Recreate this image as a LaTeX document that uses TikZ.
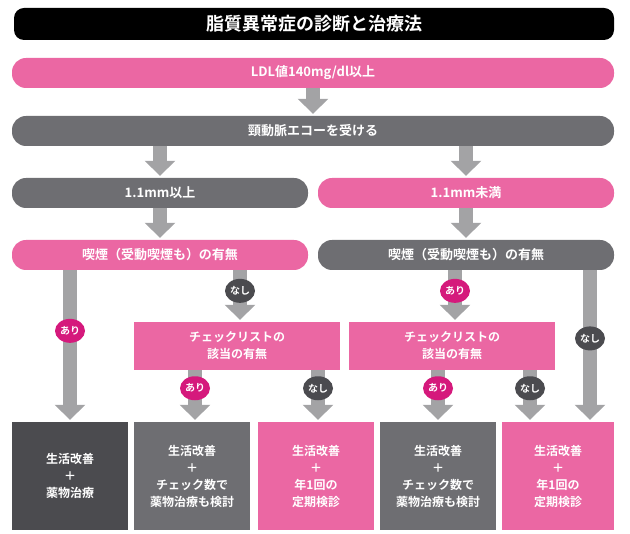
\documentclass[tikz,border=0pt]{standalone}
\usepackage{fontspec}
\usetikzlibrary{arrows.meta}
\newfontfamily\cjk{Noto Sans CJK JP}[BoldFont=* Bold]
\definecolor{pinkc}{HTML}{EB67A3}
\definecolor{grayc}{HTML}{6E6E72}
\definecolor{darkc}{HTML}{4B4B4F}
\definecolor{arrc}{HTML}{A3A3A5}
\definecolor{magc}{HTML}{D5197C}
\tikzset{
  bar/.style={fill=#1, text=white, rounded corners=14pt, minimum height=30pt,
    font=\cjk\bfseries\fontsize{13}{15}\selectfont, inner sep=0pt},
  box/.style={fill=#1, text=white, align=center, inner sep=0pt,
    font=\cjk\bfseries\fontsize{12}{17}\selectfont},
  arr/.style={draw=arrc, line width=14pt, -{Triangle[width=30pt,length=15pt]}, shorten >=2pt},
  pill/.style={fill=#1, text=white, ellipse, minimum width=30pt, minimum height=24pt,
    inner sep=0pt, font=\cjk\bfseries\fontsize{10}{11}\selectfont}
}
\usetikzlibrary{shapes.geometric}
\begin{document}
\begin{tikzpicture}[x=1pt,y=-1pt]
\useasboundingbox (0,0) rectangle (630,534);
% header
\node[bar=black, minimum width=600pt, minimum height=32pt, rounded corners=10pt,
  font=\cjk\bfseries\fontsize{18}{21}\selectfont] (title) at (314,24) {脂質異常症の診断と治療法};
\node[bar=pinkc, minimum width=602pt] (ldl) at (313,73) {LDL値140mg/dl以上};
\node[bar=grayc, minimum width=602pt] (echo) at (313,131) {頸動脈エコーを受ける};
\node[bar=grayc, minimum width=296pt] (hi) at (160,193) {1.1mm以上};
\node[bar=pinkc, minimum width=296pt] (lo) at (466,193) {1.1mm未満};
\node[bar=pinkc, minimum width=296pt] (smokeL) at (160,255) {喫煙（受動喫煙も）の有無};
\node[bar=grayc, minimum width=296pt] (smokeR) at (466,255) {喫煙（受動喫煙も）の有無};
% check lists
\node[box=pinkc, minimum width=206pt, minimum height=48pt] (checkL) at (237,346) {チェックリストの\\該当の有無};
\node[box=pinkc, minimum width=206pt, minimum height=48pt] (checkR) at (452,346) {チェックリストの\\該当の有無};
% results
\node[box=darkc, minimum width=116pt, minimum height=108pt] (r1) at (70,476) {生活改善\\＋\\薬物治療};
\node[box=grayc, minimum width=116pt, minimum height=108pt] (r2) at (192,476) {生活改善\\＋\\チェック数で\\薬物治療も検討};
\node[box=pinkc, minimum width=116pt, minimum height=108pt] (r3) at (316,476) {生活改善\\＋\\年1回の\\定期検診};
\node[box=grayc, minimum width=116pt, minimum height=108pt] (r4) at (438,476) {生活改善\\＋\\チェック数で\\薬物治療も検討};
\node[box=pinkc, minimum width=112pt, minimum height=108pt] (r5) at (558,476) {生活改善\\＋\\年1回の\\定期検診};
% arrows
\draw[arr] (ldl.south) -- (echo.north);
\draw[arr] (echo.south -| hi) -- (hi.north);
\draw[arr] (echo.south -| lo) -- (lo.north);
\draw[arr] (hi.south) -- (smokeL.north);
\draw[arr] (lo.south) -- (smokeR.north);
\draw[arr] (smokeL.south -| 70,0) -- (r1.north) node[pos=0.4, pill=magc] (p1) {あり};
\draw[arr] (smokeL.south -| 240,0) -- (checkL.north -| 240,0) node[pos=0.4, pill=darkc] (p2) {なし};
\draw[arr] (smokeR.south -| 455,0) -- (checkR.north -| 455,0) node[pos=0.4, pill=magc] (p3) {あり};
\draw[arr] (smokeR.south -| 590,0) -- (r5.north -| 590,0) node[pos=0.45, pill=darkc] (p4) {なし};
\draw[arr] (checkL.south -| 195,0) -- (r2.north -| 195,0) node[pos=0.35, pill=magc] (p5) {あり};
\draw[arr] (checkL.south -| 318,0) -- (r3.north -| 318,0) node[pos=0.35, pill=darkc] (p6) {なし};
\draw[arr] (checkR.south -| 438,0) -- (r4.north -| 438,0) node[pos=0.35, pill=magc] (p7) {あり};
\draw[arr] (checkR.south -| 530,0) -- (r5.north -| 530,0) node[pos=0.35, pill=darkc] (p8) {なし};
\end{tikzpicture}
\end{document}
